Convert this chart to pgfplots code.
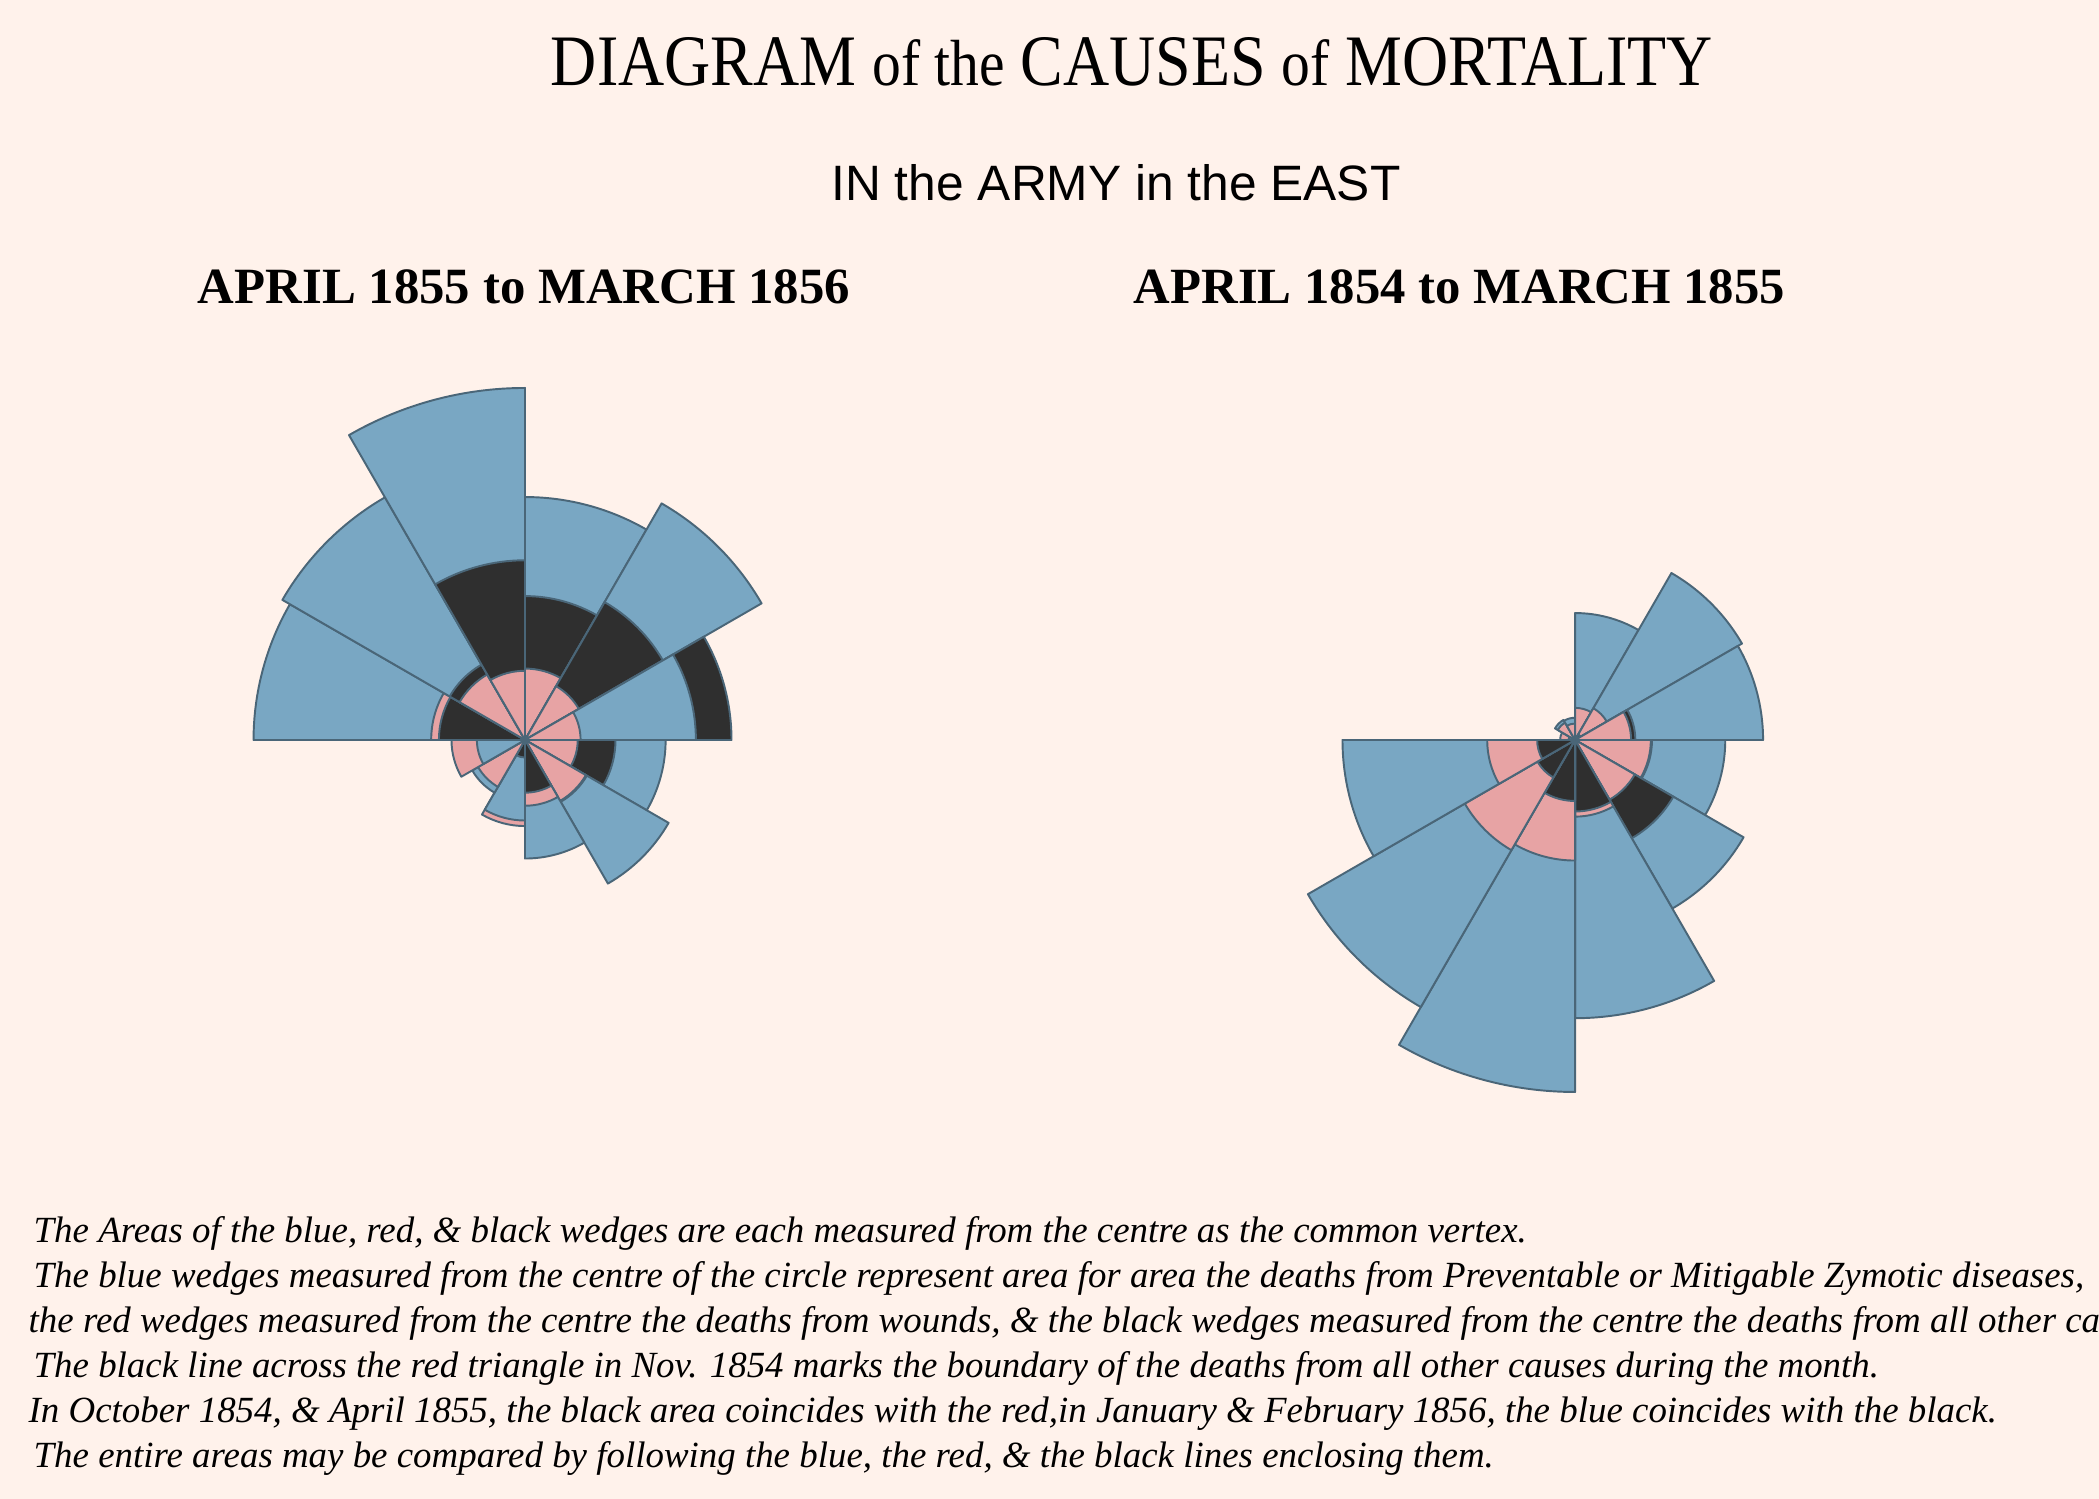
\documentclass[border=0pt]{standalone}
\usepackage{pgfplots}
\pgfplotsset{compat=1.18}
\usepackage{pgfplotstable}
\usepackage{graphicx}
\usepackage{fontspec}
\setmainfont{Liberation Serif}
\newfontfamily\sansf{Liberation Sans}
\definecolor{bgc}{HTML}{FFF2EB}
\definecolor{cblue}{HTML}{79A7C3}
\definecolor{cred}{HTML}{E7A3A4}
\definecolor{cblack}{HTML}{2F2F2F}
\definecolor{cedge}{HTML}{4A6678}

% wedge mark: radius proportional to sqrt(count), largest month = 35.2 mm
% colour code c: 0 = blue (zymotic disease), 1 = black (wounds), 2 = red (other)
\newcommand\declwedge[2]{%
\pgfdeclareplotmark{#1}{%
  \pgfmathsetmacro\wR{35.2*sqrt(\vV/#2)}%
  \pgfmathsetmacro\wA{\thA-15}%
  \pgfmathsetmacro\wB{\thA+15}%
  \pgfmathtruncatemacro\wC{\cC}%
  \ifdim\wR pt>0.001pt
    \pgfsetstrokecolor{cedge}%
    \ifcase\wC\relax \pgfsetfillcolor{cblue}\or \pgfsetfillcolor{cblack}\else \pgfsetfillcolor{cred}\fi
    \pgfsetlinewidth{0.55pt}%
    \pgfsetroundjoin
    \pgfpathmoveto{\pgfpointorigin}%
    \pgfpathlineto{\pgfpointpolar{\wA}{\wR mm}}%
    \pgfpatharc{\wA}{\wB}{\wR mm}%
    \pgfpathclose
    \pgfusepath{fill,stroke}%
  \fi
}}
\declwedge{wedgeL}{802}
\declwedge{wedgeR}{2761}

\pgfplotsset{wedgeplot/.style={scatter, only marks, mark=#1,
  point meta min=0, point meta max=2000,
  scatter/@pre marker code/.code={}, scatter/@post marker code/.code={},
  visualization depends on={\thisrow{th}\as\thA},
  visualization depends on={\thisrow{v}\as\vV},
  visualization depends on={\thisrow{c}\as\cC}}}

% April 1855 - March 1856 (deaths per month)
\pgfplotstableread{
th v c
165 477 0
165 57 2
165 48 1
135 508 0
135 49 1
135 37 2
105 802 0
105 209 1
105 31 2
75 382 0
75 134 1
75 33 2
45 483 0
45 164 1
45 25 2
15 276 1
15 189 0
15 20 2
-15 128 0
-15 53 1
-15 18 2
-45 178 0
-45 33 1
-45 32 2
-75 91 0
-75 28 2
-75 18 1
-105 48 2
-105 42 0
-105 2 1
-135 24 0
-135 19 2
-135 0 1
-165 35 2
-165 15 0
-165 0 1
}\leftdata

% April 1854 - March 1855
\pgfplotstableread{
th v c
165 5 2
165 1 0
165 0 1
135 12 0
135 9 2
135 0 1
105 11 0
105 6 2
105 0 1
75 359 0
75 23 2
75 0 1
45 828 0
45 30 2
45 1 1
15 788 0
15 81 1
15 70 2
-15 503 0
-15 132 1
-15 128 2
-45 844 0
-45 287 1
-45 106 2
-75 1725 0
-75 131 2
-75 114 1
-105 2761 0
-105 324 2
-105 83 1
-135 2120 0
-135 361 2
-135 42 1
-165 1205 0
-165 172 2
-165 32 1
}\rightdata

\begin{document}
\begin{tikzpicture}
\useasboundingbox (0,0) rectangle (209.9mm,149.9mm);
\clip (0,0) rectangle (209.9mm,149.9mm);
\fill[bgc] (0,0) rectangle (209.9mm,149.9mm);
\begin{axis}[at={(0,0)}, anchor=south west, x=0.1mm, y=0.1mm,
  xmin=0, xmax=2099, ymin=0, ymax=1499, hide axis, clip=false, scale only axis]
\addplot[wedgeplot=wedgeL] table[x expr=525, y expr=759]{\leftdata};
\addplot[wedgeplot=wedgeR] table[x expr=1575, y expr=759]{\rightdata};
\end{axis}
\node[anchor=base, inner sep=0] at (113.2mm,141.3mm)
  {\resizebox{116.2mm}{4.8mm}{DIAGRAM {\small of the} CAUSES {\small of} MORTALITY}};
\node[anchor=base, inner sep=0] at (111.6mm,129.8mm)
  {\resizebox{56.9mm}{!}{\sansf IN the ARMY in the EAST}};
\node[anchor=base, inner sep=0] at (52.4mm,119.5mm)
  {\resizebox{65.2mm}{!}{\bfseries APRIL 1855 to MARCH 1856}};
\node[anchor=base, inner sep=0] at (145.95mm,119.5mm)
  {\resizebox{65.1mm}{!}{\bfseries APRIL 1854 to MARCH 1855}};
\begin{scope}[every node/.style={anchor=base west, inner sep=0, font=\fontsize{10.5pt}{12pt}\selectfont\itshape}]
\node at (3.3mm,25.6mm) {The Areas of the blue, red, \& black wedges are each measured from the centre as the common vertex.};
\node at (3.3mm,21.1mm) {The blue wedges measured from the centre of the circle represent area for area the deaths from Preventable or Mitigable Zymotic diseases,};
\node at (2.8mm,16.6mm) {the red wedges measured from the centre the deaths from wounds, \& the black wedges measured from the centre the deaths from all other causes.};
\node at (3.3mm,12.1mm) {The black line across the red triangle in Nov. 1854 marks the boundary of the deaths from all other causes during the month.};
\node at (2.8mm,7.6mm) {In October 1854, \& April 1855, the black area coincides with the red,in January \& February 1856, the blue coincides with the black.};
\node at (3.3mm,3.1mm) {The entire areas may be compared by following the blue, the red, \& the black lines enclosing them.};
\end{scope}
\end{tikzpicture}
\end{document}
